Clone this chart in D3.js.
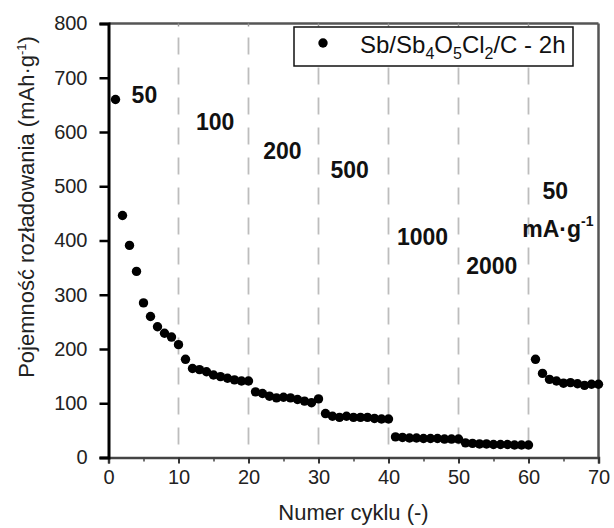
<!DOCTYPE html>
<html>
<head>
<meta charset="utf-8">
<script src="https://cdn.jsdelivr.net/npm/d3@7"></script>
<style>
  html, body { margin: 0; padding: 0; background: #fff; }
  svg { display: block; }
  text { font-family: "Liberation Sans", Arial, Helvetica, sans-serif; }
</style>
</head>
<body>
<svg id="chart" width="614" height="528"></svg>
<script>
// ---- data ----
const cycles = [1,2,3,4,5,6,7,8,9,10,11,12,13,14,15,16,17,18,19,20,
  21,22,23,24,25,26,27,28,29,30,31,32,33,34,35,36,37,38,39,40,
  41,42,43,44,45,46,47,48,49,50,51,52,53,54,55,56,57,58,59,60,
  61,62,63,64,65,66,67,68,69,70];
const capacity = [660,446,391,343,285,260,241,229,222,208,
  181,164,162,158,152,149,146,143,141,141,
  121,118,113,110,111,110,107,104,101,108,
  81,76,74,76,74,74,74,72,71,71,
  38,37,36,36,35,35,35,34,34,34,
  27,26,25,25,24,24,24,23,23,23,
  181,155,144,141,137,138,136,133,135,135];
const seriesName = ["Sb/Sb", "4", "O", "5", "Cl", "2", "/C - 2h"];
const xTicks = [0,10,20,30,40,50,60,70];
const xMinorTicks = [5,15,25,35,45,55,65];
const yTicks = [0,100,200,300,400,500,600,700,800];
const rateBoundaries = [10,20,30,40,50,60];
const rateLabels = ["50","100","200","500","1000","2000","50"];
const rateLabelCycle = [3.3,12.5,22.1,31.7,41.2,51.1,62.0];
const rateLabelCap = [654,604,551,516,391,339,477];

// ---- layout ----
const svg = d3.select("#chart");
const x = d3.scaleLinear().domain([0,70]).range([108.5,598.5]);
const y = d3.scaleLinear().domain([0,800]).range([457.5,23.5]);

// dashed boundaries
svg.append("g").selectAll("line").data(rateBoundaries).join("line")
  .attr("x1", d => x(d)).attr("x2", d => x(d))
  .attr("y1", y(800)).attr("y2", y(0))
  .attr("stroke", "#bdbdbd").attr("stroke-width", 1.8)
  .attr("stroke-dasharray", "17,13").attr("stroke-dashoffset", -14);

// frame top and right
svg.append("line").attr("x1", x(0)).attr("x2", x(70)).attr("y1", y(800)).attr("y2", y(800))
  .attr("stroke", "#555").attr("stroke-width", 2.5);
svg.append("line").attr("x1", x(70)).attr("x2", x(70)).attr("y1", y(800)).attr("y2", y(0))
  .attr("stroke", "#555").attr("stroke-width", 2.5);
// small marks on top frame
svg.append("g").selectAll("line").data(rateBoundaries).join("line")
  .attr("x1", d => x(d)).attr("x2", d => x(d))
  .attr("y1", y(800)).attr("y2", y(800) + 3)
  .attr("stroke", "#999").attr("stroke-width", 1.5);

// bottom axis
const xAxis = d3.axisBottom(x).tickValues(xTicks).tickSize(6).tickPadding(6).tickFormat(d3.format("d"));
const gx = svg.append("g").attr("transform", `translate(0,${y(0)})`).call(xAxis);
gx.select(".domain").attr("stroke", "#444").attr("stroke-width", 2.5);
gx.selectAll(".tick line").attr("stroke", "#333").attr("stroke-width", 2);
gx.selectAll(".tick text").attr("font-size", 20).attr("fill", "#222")
  .attr("font-family", "Liberation Sans, Arial, sans-serif");
const gxm = svg.append("g").attr("transform", `translate(0,${y(0)})`)
  .call(d3.axisBottom(x).tickValues(xMinorTicks).tickSize(4).tickFormat(""));
gxm.select(".domain").remove();
gxm.selectAll(".tick line").attr("stroke", "#444").attr("stroke-width", 1.5);

// left axis
const yAxis = d3.axisLeft(y).tickValues(yTicks).tickSize(9).tickPadding(12).tickFormat(d3.format("d"));
const gy = svg.append("g").attr("transform", `translate(${x(0)},0)`).call(yAxis);
gy.select(".domain").attr("stroke", "#000").attr("stroke-width", 3);
gy.selectAll(".tick line").attr("stroke", "#000").attr("stroke-width", 2.5);
gy.selectAll(".tick text").attr("font-size", 20).attr("fill", "#222")
  .attr("font-family", "Liberation Sans, Arial, sans-serif");

// axis titles
svg.append("text").attr("x", (x(0)+x(70))/2).attr("y", 520).attr("text-anchor", "middle")
  .attr("font-size", 22).attr("fill", "#222").text("Numer cyklu (-)");
const yl = svg.append("text").attr("transform", "translate(34,207) rotate(-90)")
  .attr("text-anchor", "middle").attr("font-size", 22).attr("fill", "#222");
yl.append("tspan").text("Pojemność rozładowania (mAh·g");
yl.append("tspan").attr("font-size", 13).attr("dy", -8).text("-1");
yl.append("tspan").attr("dy", 8).text(")");

// data points
svg.append("g").selectAll("circle").data(cycles).join("circle")
  .attr("cx", d => x(d)).attr("cy", (d, i) => y(capacity[i]))
  .attr("r", 4.7).attr("fill", "#000");

// rate annotations
svg.append("g").selectAll("text").data(rateLabels).join("text")
  .attr("x", (d, i) => x(rateLabelCycle[i])).attr("y", (d, i) => y(rateLabelCap[i]))
  .attr("font-size", 23).attr("font-weight", "bold").attr("fill", "#111").text(d => d);
const unit = svg.append("text").attr("x", x(59.1)).attr("y", y(406))
  .attr("font-size", 23).attr("font-weight", "bold").attr("fill", "#111");
unit.append("tspan").text("mA·g");
unit.append("tspan").attr("font-size", 14).attr("dy", -11).text("-1");

// legend
const lg = svg.append("g");
lg.append("rect").attr("x", 294).attr("y", 27).attr("width", 279).attr("height", 39)
  .attr("fill", "#fff").attr("stroke", "#111").attr("stroke-width", 1.5);
lg.append("circle").attr("cx", 323).attr("cy", 43).attr("r", 4.7).attr("fill", "#000");
const lt = lg.append("text").attr("x", 360).attr("y", 53).attr("font-size", 24).attr("fill", "#111");
seriesName.forEach((s, i) => {
  const sub = i % 2 === 1;
  const prevSub = i > 0 && (i - 1) % 2 === 1;
  const t = lt.append("tspan").text(s);
  if (sub) t.attr("font-size", 16).attr("dy", 6);
  else if (prevSub) t.attr("dy", -6);
});
</script>
</body>
</html>
